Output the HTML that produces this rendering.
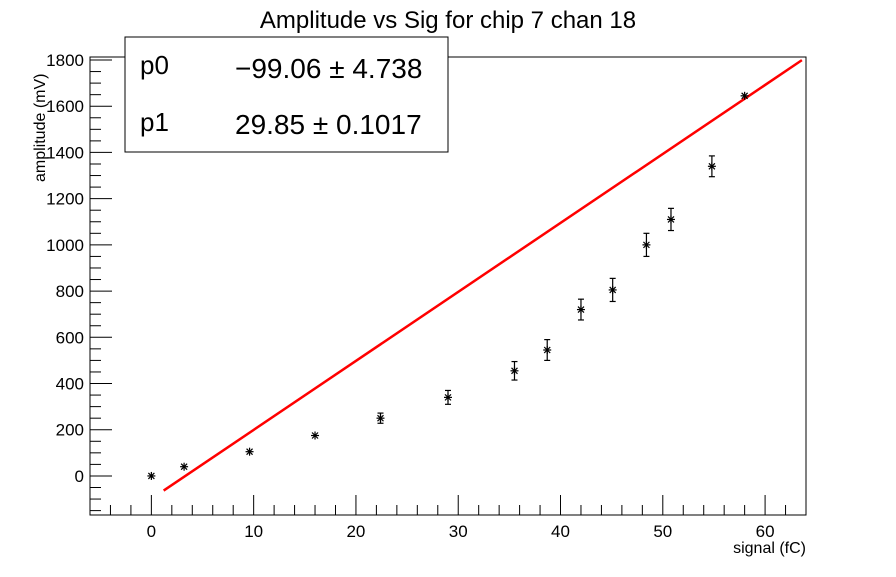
<!DOCTYPE html>
<html><head><meta charset="utf-8"><style>
body{margin:0;background:#fff}
svg text{font-family:"Liberation Sans",Arial,sans-serif}
</style></head><body>
<svg id="c" width="896" height="572" xmlns="http://www.w3.org/2000/svg">
<rect width="896" height="572" fill="#fff"/>
<text x="448" y="28" font-size="24" text-anchor="middle">Amplitude vs Sig for chip 7 chan 18</text>
<g id="axes"></g>
<g id="marks"></g>
<g>
<rect x="125" y="37" width="323" height="115" fill="#fff" stroke="#000" stroke-width="1"/>
<text x="140" y="74" font-size="26">p0</text>
<text x="235" y="78" font-size="28">−99.06 ± 4.738</text>
<text x="140" y="131" font-size="26">p1</text>
<text x="235" y="134" font-size="28">29.85 ± 0.1017</text>
</g>
<text x="806" y="553" font-size="16" text-anchor="end">signal (fC)</text>
<text transform="translate(45,182) rotate(-90)" font-size="16" text-anchor="start">amplitude (mV)</text>
</svg>
<script>
const xs=[0,3.2,9.6,16,22.4,29,35.5,38.7,42,45.1,48.4,50.8,54.8,58];
const ys=[0,40,105,175,250,340,455,545,720,805,1000,1110,1340,1645];
const errs=[8,10,12,15,22,30,40,45,45,50,50,48,45,12];
const xTicks=[0,10,20,30,40,50,60];
const yTicks=[0,200,400,600,800,1000,1200,1400,1600,1800];
const fitP0=-99.06, fitP1=29.85, fitRange=[1.2,63.6];
const L=90,R=806,T=57,B=515,X0=-6,X1=64,Y0=-169,Y1=1813;
const sx=v=>L+(v-X0)/(X1-X0)*(R-L);
const sy=v=>B-(v-Y0)/(Y1-Y0)*(B-T);
const NS="http://www.w3.org/2000/svg";
const ax=document.getElementById('axes'),mk=document.getElementById('marks');
function el(t,a,p){const e=document.createElementNS(NS,t);for(const k in a)e.setAttribute(k,a[k]);p.appendChild(e);return e;}
const fr=el('rect',{x:L,y:T,width:R-L,height:B-T,fill:'none',stroke:'#000','stroke-width':1},ax);


for(let v=-6;v<=64;v+=2){const big=v%10===0;const t=el('line',{x1:sx(v),x2:sx(v),y1:B,y2:B-(big?20:10),stroke:'#000'},ax);

}
xTicks.forEach(v=>{const t=el('text',{x:sx(v),y:B+22,'font-size':17,'text-anchor':'middle'},ax);t.textContent=v;

});
for(let v=-150;v<=1800;v+=50){const big=v%200===0;const t=el('line',{x1:L,x2:L+(big?22:11),y1:sy(v),y2:sy(v),stroke:'#000'},ax);

}
yTicks.forEach(v=>{const t=el('text',{x:L-6,y:sy(v)+6,'font-size':17,'text-anchor':'end'},ax);t.textContent=v;

});
const fl=el('line',{x1:sx(fitRange[0]),y1:sy(fitP0+fitP1*fitRange[0]),x2:sx(fitRange[1]),y2:sy(fitP0+fitP1*fitRange[1]),stroke:'#f00','stroke-width':2.5},mk);


xs.forEach((x,i)=>{const g=el('g',{stroke:'#000','stroke-width':1.2},mk);


const cx=sx(x),cy=sy(ys[i]),e1=sy(ys[i]+errs[i]),e2=sy(ys[i]-errs[i]);
if(e2-e1>8){el('line',{x1:cx,x2:cx,y1:e1,y2:e2},g);el('line',{x1:cx-3,x2:cx+3,y1:e1,y2:e1},g);el('line',{x1:cx-3,x2:cx+3,y1:e2,y2:e2},g);}
el('line',{x1:cx-4,x2:cx+4,y1:cy,y2:cy},g);el('line',{x1:cx,x2:cx,y1:cy-4,y2:cy+4},g);
el('line',{x1:cx-3,x2:cx+3,y1:cy-3,y2:cy+3},g);el('line',{x1:cx-3,x2:cx+3,y1:cy+3,y2:cy-3},g);});
</script>
</body></html>
